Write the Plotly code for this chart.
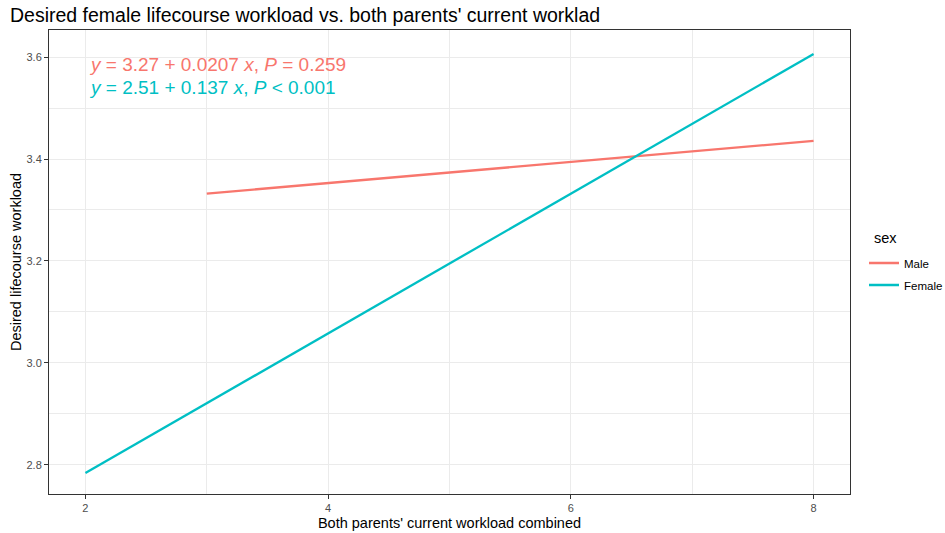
import plotly.graph_objects as go
import numpy as np

# Fitted linear models per group: y = intercept + slope * x
groups = ["Male", "Female"]
intercepts = [3.27, 2.51]
slopes = [0.0207, 0.137]
p_labels = ["= 0.259", "< 0.001"]
x_starts = [3, 2]
x_ends = [8, 8]
colors = ["#F8766D", "#00BFC4"]

x_ticks = [2, 4, 6, 8]
y_ticks = [2.8, 3.0, 3.2, 3.4, 3.6]

fig = go.Figure()
for g, b0, b1, xs, xe, c in zip(groups, intercepts, slopes, x_starts, x_ends, colors):
    xv = np.linspace(xs, xe, 50)
    fig.add_trace(go.Scatter(x=xv, y=b0 + b1 * xv, mode="lines", name=g, legendgroup=g,
                             line=dict(color=c, width=2.3)))

# Regression equation labels
for i, (b0, b1, p, c) in enumerate(zip(intercepts, slopes, p_labels, colors)):
    fig.add_annotation(
        x=2.01, y=3.586 - i * 0.045, xref="x", yref="y", xanchor="left", yanchor="middle",
        text=f"<i>y</i> = {b0:.2f} + {b1:g} <i>x</i>, <i>P</i> {p}",
        showarrow=False, font=dict(size=19, color=c, family="Liberation Sans, Arial"))

# Legend heading, placed in pixel terms relative to the plotting area
fig.add_annotation(x=(872 - 49) / 801, y=(494 - 238) / 464, xref="paper", yref="paper",
                   text="sex", showarrow=False, xanchor="left", yanchor="middle",
                   font=dict(size=14.5, color="black"))

grid = "#EBEBEB"
axis_common = dict(showline=True, linecolor="#333333", linewidth=1, mirror=True,
                   ticks="outside", ticklen=4, tickcolor="#333333",
                   tickfont=dict(size=11, color="#4D4D4D"),
                   showgrid=True, gridcolor=grid, gridwidth=1, zeroline=False)

fig.update_layout(
    width=945, height=533,
    margin=dict(l=49, r=95, t=30, b=39, autoexpand=False),
    paper_bgcolor="white", plot_bgcolor="white",
    font=dict(family="Liberation Sans, Arial", color="black"),
    title=dict(text="Desired female lifecourse workload vs. both parents' current worklad",
               x=10 / 945, xanchor="left", y=1 - 15 / 533, yanchor="middle",
               font=dict(size=19.5, color="black")),
    xaxis=dict(range=[1.7, 8.3], tickvals=x_ticks, ticktext=[str(v) for v in x_ticks],
               minor=dict(dtick=1, tick0=0, showgrid=True, gridcolor=grid, gridwidth=0.6, ticks=""),
               title=dict(text="Both parents' current workload combined", standoff=4,
                          font=dict(size=14.5)),
               **axis_common),
    yaxis=dict(range=[2.743, 3.653], tickvals=y_ticks, ticktext=[f"{v:.1f}" for v in y_ticks],
               minor=dict(tickvals=[2.9, 3.1, 3.3, 3.5], showgrid=True, gridcolor=grid,
                          gridwidth=0.6, ticks=""),
               title=dict(text="Desired lifecourse workload", standoff=1, font=dict(size=14.5)),
               **axis_common),
    legend=dict(x=(864 - 49) / 801, xanchor="left", y=(494 - 274) / 464, yanchor="middle",
                itemwidth=30, tracegroupgap=3,
                font=dict(size=11.5), bgcolor="rgba(0,0,0,0)"),
)

fig.write_html("out.html")
